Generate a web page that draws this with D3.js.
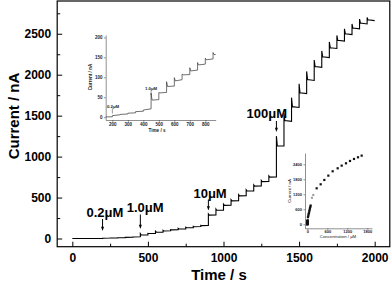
<!DOCTYPE html>
<html><head><meta charset="utf-8">
<script src="https://cdn.jsdelivr.net/npm/d3@7"></script>
<style>body{margin:0;background:#fff}svg{display:block}text{font-family:"Liberation Sans",Arial,sans-serif}</style>
</head><body><svg id="c" width="392" height="281"></svg>
<script>
// ---- main amperometric trace ----
const baseTimes = [0, 200];
const baseValues = [0, 1];
const stepTimes  = [200,250,300,350,400, 450,500,550,600,650,700,750,800,850, 900,950,1000,1050,1100,1150,1200,1250,1300, 1350,1400,1450,1500,1550,1600,1650,1700,1750,1800,1850,1900,1950];
const stepPeaks  = [4,7,10,14,18, 60,62,89,99,108,124,137,148,162, 300,360,420,475,535,595,655,710,765, 1250,1530,1720,1890,2040,2180,2290,2400,2480,2560,2620,2680,2700];
const stepLevels = [4,7,10,14,18, 43,61,77,91,106,116,131,144,157, 285,345,405,460,520,580,640,695,750, 1130,1440,1610,1780,1940,2100,2220,2330,2420,2500,2570,2630,2670];
const stepEnds   = [6,8,11,15,21, 44,62,78,94,107,118,133,146,158, 287,347,407,462,522,582,642,697,752, 1130,1430,1600,1770,1930,2090,2210,2320,2410,2490,2560,2620,2660];
const endTime = 2000;
const xTicks = [0,500,1000,1500,2000];
const xMinor = [250,750,1250,1750];
const yTicks = [0,500,1000,1500,2000,2500];
const yMinor = [250,750,1250,1750,2250,2750];
const marks = [{label:"0.2μM", t:200},{label:"1.0μM", t:450},{label:"10μM", t:900},{label:"100μM", t:1350}];
// ---- inset 1 ----
const inXTicks = [200,300,400,500,600,700,800];
const inYTicks = [0,50,100,150,200];
const inMarks = [{label:"0.2μM", t:200},{label:"1.0μM", t:450}];
// ---- inset 2 (calibration) ----
const calConc    = [0,0.2,0.4,0.6,0.8,1,2,3,4,5,6,7,8,9,10,20,30,40,50,60,70,80,90,100, 281,401,511,631,761,911,1031,1161,1281,1401,1521,1631];
const calCurrent = [0,4,7,10,14,18,43,61,77,91,106,116,131,144,157,285,345,405,460,520,580,640,695,750, 1439,1599,1772,1945,2119,2239,2345,2439,2532,2612,2679,2745];
const calGrayConc = [140,180];
const calGrayCurrent = [1060,1170];
const calXTicks = [0,600,1200,1800];
const calYTicks = [0,600,1200,1800,2400];

const svg = d3.select("#c");
const FONT = '"Liberation Sans",Arial,sans-serif';
const fmt = d3.format("d");

// build trace points
const pts = baseTimes.map((t,i)=>[t, baseValues[i]]);
let prev = baseValues[baseValues.length-1];
stepTimes.forEach((t,i)=>{
  const next = i < stepTimes.length-1 ? stepTimes[i+1] : endTime;
  pts.push([t, prev]);
  pts.push([t, stepPeaks[i]]);
  if (stepPeaks[i] !== stepLevels[i]) pts.push([t + 6, stepLevels[i]]);
  pts.push([next, stepEnds[i]]);
  prev = stepEnds[i];
});

// ---- main chart ----
const x = d3.scaleLinear([-100,2100],[57.2,389.8]);
const y = d3.scaleLinear([-100,2900],[246.7,1]);
const L=57.2,R=389.8,T=1,B=246.7;

const gx = svg.append("g").attr("transform",`translate(0,${B})`)
  .call(d3.axisBottom(x).tickValues(xTicks).tickSize(-5).tickPadding(6.5).tickFormat(fmt));
gx.select(".domain").remove();
gx.selectAll(".tick text").attr("font-size",12).attr("font-weight","bold").attr("font-family",FONT).attr("fill","#000");
gx.selectAll(".tick line").attr("stroke","#000").attr("stroke-width",1);
svg.append("g").attr("transform",`translate(0,${B})`)
  .call(d3.axisBottom(x).tickValues(xMinor).tickSize(-3).tickFormat(""))
  .call(g=>g.select(".domain").remove()).selectAll("line").attr("stroke","#000");

const gy = svg.append("g").attr("transform",`translate(${L},0)`)
  .call(d3.axisLeft(y).tickValues(yTicks).tickSize(-5).tickPadding(6).tickFormat(fmt));
gy.select(".domain").remove();
gy.selectAll(".tick text").attr("font-size",12).attr("font-weight","bold").attr("font-family",FONT).attr("fill","#000");
gy.selectAll(".tick line").attr("stroke","#000");
svg.append("g").attr("transform",`translate(${L},0)`)
  .call(d3.axisLeft(y).tickValues(yMinor).tickSize(-3).tickFormat(""))
  .call(g=>g.select(".domain").remove()).selectAll("line").attr("stroke","#000");

svg.append("rect").attr("x",L).attr("y",T).attr("width",R-L).attr("height",B-T)
  .attr("fill","none").attr("stroke","#000").attr("stroke-width",1.2);

svg.append("text").attr("x",219).attr("y",274).attr("text-anchor","middle").attr("dominant-baseline","central")
  .attr("font-size",15).attr("font-weight","bold").text("Time / s");
svg.append("text").attr("transform","translate(13,116) rotate(-90)").attr("text-anchor","middle").attr("dominant-baseline","central")
  .attr("font-size",15).attr("font-weight","bold").text("Current / nA");

const line = d3.line().x(d=>x(d[0])).y(d=>y(d[1]));
svg.append("path").datum(pts).attr("d",line).attr("fill","none").attr("stroke","#000").attr("stroke-width",1.1).attr("stroke-linejoin","miter");

function arrow(g, ax, y0, y1, w, sw){
  g.append("line").attr("x1",ax).attr("x2",ax).attr("y1",y0).attr("y2",y1-w*1.2).attr("stroke","#000").attr("stroke-width",sw);
  g.append("path").attr("d",`M${ax-w/2},${y1-w*1.4}L${ax+w/2},${y1-w*1.4}L${ax},${y1}Z`).attr("fill","#000");
}
const markPos = {"0.2μM":[2.3,212.7,219,231],"1.0μM":[4.8,207.3,214.5,229],"10μM":[1.7,193.3,199.5,210.5],"100μM":[-9.6,113.3,121,132]};
marks.forEach(m=>{
  const p = markPos[m.label]; const ax = x(m.t);
  svg.append("text").attr("x",ax+p[0]).attr("y",p[1]).attr("text-anchor","middle").attr("dominant-baseline","central")
    .attr("font-size",13).attr("font-weight","bold").text(m.label);
  arrow(svg, ax, p[2], p[3], 3, 1);
});

// ---- inset 1 ----
const ix = d3.scaleLinear([157,867],[105.7,215.7]);
const iy = d3.scaleLinear([-7,206],[120,35]);
const ig = svg.append("g");
ig.append("clipPath").attr("id","ic").append("rect").attr("x",105.7).attr("y",35).attr("width",110).attr("height",85);
const igx = ig.append("g").attr("transform","translate(0,120)")
  .call(d3.axisBottom(ix).tickValues(inXTicks).tickSize(1.8).tickPadding(1.5).tickSizeOuter(0).tickFormat(fmt));
const igy = ig.append("g").attr("transform","translate(105.7,0)")
  .call(d3.axisLeft(iy).tickValues(inYTicks).tickSize(1.8).tickPadding(1.5).tickSizeOuter(0).tickFormat(fmt));
[igx,igy].forEach(g=>{
  g.selectAll("text").attr("font-size",4.5).attr("font-weight","bold").attr("font-family",FONT).attr("fill","#222");
  g.selectAll("line,path").attr("stroke","#444").attr("stroke-width",0.6);
});
ig.append("text").attr("x",157).attr("y",130).attr("text-anchor","middle").attr("dominant-baseline","central")
  .attr("font-size",4.6).attr("font-weight","bold").attr("fill","#222").text("Time / s");
ig.append("text").attr("transform","translate(90,77) rotate(-90)").attr("text-anchor","middle").attr("dominant-baseline","central")
  .attr("font-size",4.6).attr("font-weight","bold").attr("fill","#222").text("Current / nA");
const iline = d3.line().x(d=>ix(d[0])).y(d=>iy(d[1]));
ig.append("path").datum(pts.filter(d=>d[0]<=900)).attr("d",iline).attr("clip-path","url(#ic)")
  .attr("fill","none").attr("stroke","#333").attr("stroke-width",0.7);
const inMarkPos = {"0.2μM":[0.7,106,108.5,113.5],"1.0μM":[0,88.3,90.5,95]};
inMarks.forEach(m=>{
  const p = inMarkPos[m.label]; const ax = ix(m.t);
  ig.append("text").attr("x",ax+p[0]).attr("y",p[1]).attr("text-anchor","middle").attr("dominant-baseline","central")
    .attr("font-size",4.3).attr("font-weight","bold").attr("fill","#222").text(m.label);
  ig.append("line").attr("x1",ax).attr("x2",ax).attr("y1",p[2]).attr("y2",p[3]).attr("stroke","#333").attr("stroke-width",0.5);
});

// ---- inset 2 ----
const cx = d3.scaleLinear([-69,1941],[305,372]);
const cy = d3.scaleLinear([-160,2850],[228.3,153]);
const cg = svg.append("g");
const cgx = cg.append("g").attr("transform","translate(0,228.3)")
  .call(d3.axisBottom(cx).tickValues(calXTicks).tickSize(1.3).tickPadding(0.6).tickSizeOuter(0).tickFormat(fmt));
const cgy = cg.append("g").attr("transform","translate(305,0)")
  .call(d3.axisLeft(cy).tickValues(calYTicks).tickSize(1.5).tickPadding(1.5).tickSizeOuter(0).tickFormat(fmt));
[cgx,cgy].forEach(g=>{
  g.selectAll("text").attr("font-size",4).attr("font-weight","bold").attr("font-family",FONT).attr("fill","#222");
  g.selectAll("line,path").attr("stroke","#444").attr("stroke-width",0.6);
});
cg.append("text").attr("x",338).attr("y",236.8).attr("text-anchor","middle").attr("dominant-baseline","central")
  .attr("font-size",4.3).attr("fill","#222").text("Concentration / μM");
cg.append("text").attr("transform","translate(289,191) rotate(-90)").attr("text-anchor","middle").attr("dominant-baseline","central")
  .attr("font-size",4.4).attr("fill","#222").text("Current / nA");
cg.selectAll("rect.g").data(calGrayConc.map((c,i)=>[c,calGrayCurrent[i]])).join("rect")
  .attr("x",d=>cx(d[0])-1).attr("y",d=>cy(d[1])-1).attr("width",2).attr("height",2).attr("fill","#999");
cg.selectAll("rect.b").data(calConc.map((c,i)=>[c,calCurrent[i]])).join("rect")
  .attr("x",d=>cx(d[0])-1.1).attr("y",d=>cy(d[1])-1.1).attr("width",2.2).attr("height",2.2).attr("fill","#111");
</script></body></html>
